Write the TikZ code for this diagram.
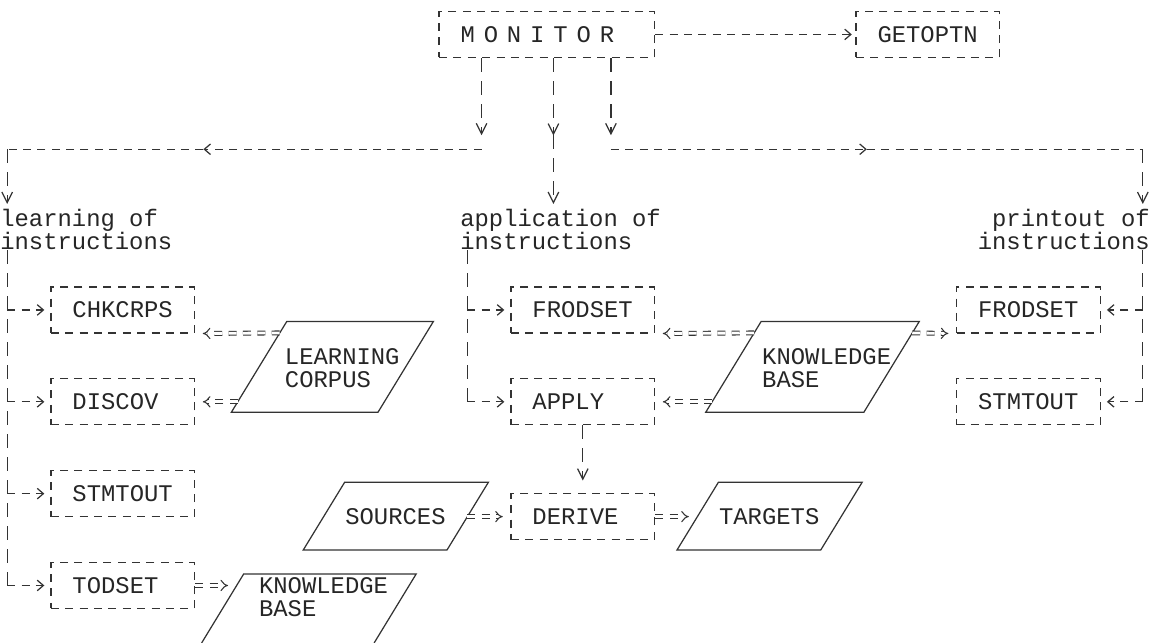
\documentclass[tikz,border=0pt]{standalone}
\usepackage{fontspec}
\newfontfamily\lpfont{Liberation Mono}
\usetikzlibrary{arrows.meta}

\begin{document}
\begin{tikzpicture}[x=0.2875cm, y=-0.4592cm,
  every node/.style={inner sep=0pt, text=black!85,
    font=\lpfont\fontsize{13.58}{13.02}\selectfont},
  hl/.style={draw=black!80, line width=0.7pt, dash pattern=on 0.16cm off 0.1275cm},
  vl/.style={draw=black!80, line width=0.7pt, dash pattern=on 0.27cm off 0.19cm},
  harr/.style={-{Straight Barb[length=3.5pt, width=6pt]}},
  varr/.style={-{Straight Barb[length=6pt, width=6pt]}},
  dbl/.style={draw=black!80, line width=0.6pt, double, double distance=1.6pt,
    dash pattern=on 0.16cm off 0.1275cm, -Implies},
  proc/.style={hl, anchor=west, minimum height=0.9184cm, inner xsep=0.43125cm,
    text width=2.0125cm, align=left},
  store/.style={draw=black!80, line width=0.7pt},
  lbl/.style={align=left, anchor=north west}]
  \fill[white] (0,0) rectangle (80,28);
  \useasboundingbox (0,0) rectangle (80,28);

  % monitor
  \node[proc, text width=3.45cm] (mon) at (30.5,1.5)
    {\spaceskip=5.05pt M O N I T O R};
  \node[proc] (get) at (59.5,1.5) {GETOPTN};
  \draw[hl, harr, shorten >=2pt] (mon) -- (get);

  % junctions
  \coordinate (jl) at (33.5,6.5);
  \coordinate (jm) at (38.5,5.9);
  \coordinate (jr) at (42.5,6.5);
  \coordinate (ml) at (14.15,6.5);
  \coordinate (mr) at (60.3,6.5);
  \coordinate (el) at (0.5,6.5);
  \coordinate (er) at (79.5,6.5);

  % the three tasks
  \node[lbl] (learnlbl) at (0,9.1) {learning of\\instructions};
  \node[lbl] (applbl) at (32,9.1) {application of\\instructions};
  \node[lbl, anchor=north east, align=right] (printlbl) at (80,9.1)
    {printout of\\instructions};

  \draw[vl, varr, shorten >=0.28cm] (mon.south -| jl) -- (jl);
  \draw[vl, varr] (mon.south -| jm) -- (jm);
  \draw[vl, varr, shorten >=0.28cm] (mon.south -| jr) -- (jr);
  \draw[hl, harr] (jl) -- (ml);
  \draw[hl] (ml) -- (el);
  \draw[hl, harr] (jr) -- (mr);
  \draw[hl] (mr) -- (er);
  \draw[vl, varr, shorten >=0.1cm] (el) -- (learnlbl.north -| el);
  \draw[vl, varr, shorten >=0.1cm] (jm) -- (applbl.north -| jm);
  \draw[vl, varr, shorten >=0.1cm] (er) -- (printlbl.north -| er);

  % routines
  \node[proc] (chk) at (3.5,13.5) {CHKCRPS};
  \node[proc] (disc) at (3.5,17.5) {DISCOV};
  \node[proc] (stm) at (3.5,21.5) {STMTOUT};
  \node[proc] (tod) at (3.5,25.5) {TODSET};
  \node[proc] (frod) at (35.5,13.5) {FRODSET};
  \node[proc] (apply) at (35.5,17.5) {APPLY};
  \node[proc] (derive) at (35.5,22.5) {DERIVE};
  \node[proc] (frodp) at (66.5,13.5) {FRODSET};
  \node[proc] (stmp) at (66.5,17.5) {STMTOUT};

  % trunks
  \coordinate (tl) at (0.5,25.5);
  \coordinate (tm) at (32.5,17.5);
  \coordinate (tr) at (79.5,17.5);
  \draw[vl] (learnlbl.south -| tl) -- (tl);
  \draw[vl] (applbl.south -| tm) -- (tm);
  \draw[vl] (printlbl.south -| tr) -- (tr);
  \foreach \b in {chk,disc,stm,tod}
    \draw[hl, harr, shorten >=0.12cm] (\b.west -| tl) -- (\b.west);
  \foreach \b in {frod,apply}
    \draw[hl, harr, shorten >=0.12cm] (\b.west -| tm) -- (\b.west);
  \foreach \b in {frodp,stmp}
    \draw[hl, harr, shorten >=0.12cm] (\b.east -| tr) -- (\b.east);
  \draw[vl, varr, shorten >=0.25cm] (apply) -- (derive);

  % learning corpus
  \draw[store] (16.1,17.95) -- (19.95,14) -- (30.15,14) -- (26.3,17.95) -- cycle;
  \node[lbl] (corpus) at (19.8,15.15) {LEARNING\\CORPUS};
  \coordinate (lc-a) at (19.46,14.5);
  \coordinate (lc-b) at (16.54,17.5);
  \draw[dbl, shorten >=0.15cm] (lc-a) -- (chk.south east);
  \draw[dbl, shorten >=0.15cm] (lc-b) -- (disc.east);

  % knowledge base (middle)
  \draw[store] (49.1,17.95) -- (52.95,14) -- (63.95,14) -- (60.1,17.95) -- cycle;
  \node[lbl] (kbase) at (53,15.15) {KNOWLEDGE\\BASE};
  \coordinate (kb-a) at (52.46,14.5);
  \coordinate (kb-b) at (49.54,17.5);
  \coordinate (kb-c) at (63.46,14.5);
  \draw[dbl, shorten >=0.15cm] (kb-a) -- (frod.south east);
  \draw[dbl, shorten >=0.15cm] (kb-b) -- (apply.east);
  \draw[dbl, shorten >=0.15cm] (kb-c) -- (frodp.south west);

  % sources and targets
  \draw[store] (21.1,23.95) -- (23.98,21) -- (33.98,21) -- (31.1,23.95) -- cycle;
  \node[lbl] (sources) at (24,22.15) {SOURCES};
  \coordinate (src-o) at (32.51,22.5);
  \draw[dbl, shorten >=0.15cm] (src-o) -- (derive.west);
  \draw[store] (47.1,23.95) -- (49.98,21) -- (59.98,21) -- (57.1,23.95) -- cycle;
  \node[lbl] (targets) at (50,22.15) {TARGETS};
  \coordinate (tgt-i) at (48.51,22.5);
  \draw[dbl, shorten >=0.17cm] (derive.east) -- (tgt-i);

  % knowledge base (bottom)
  \draw[store] (14.03,28) -- (16.95,25) -- (28.95,25) -- (26.03,28);
  \node[lbl] (kbase2) at (18,25.15) {KNOWLEDGE\\BASE};
  \coordinate (kb2-i) at (16.46,25.5);
  \draw[dbl, shorten >=0.17cm] (tod.east) -- (kb2-i);
\end{tikzpicture}
\end{document}
